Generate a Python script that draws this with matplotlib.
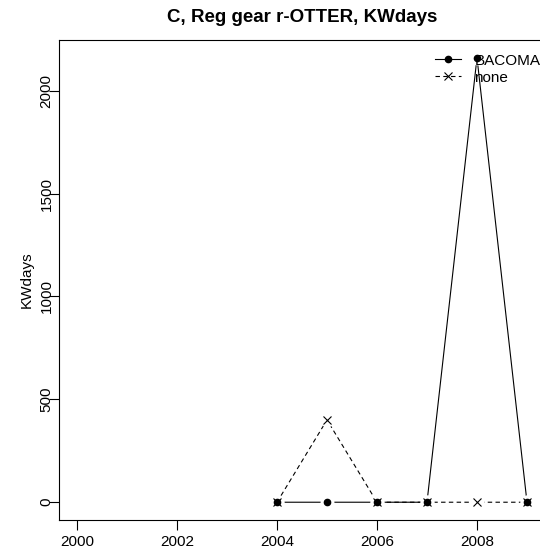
import numpy as np
import matplotlib
matplotlib.use("Agg")
import matplotlib.pyplot as plt

plt.rcParams['font.family'] = ['Liberation Sans', 'DejaVu Sans']

# data
years = [2004, 2005, 2006, 2007, 2008, 2009]
bacoma = [0, 0, 0, 0, 2160, 0]
none = [0, 400, 0, 0, 0, 0]
xticks = [2000, 2002, 2004, 2006, 2008]
yticks = [0, 500, 1000, 1500, 2000]

W, H = 540, 550
fig = plt.figure(figsize=(W/100, H/100), dpi=100)

# plot region in pixels (R style, right edge runs off the image)
left, right, top, bottom = 59, 545, 40, 520
ax = fig.add_axes([left/W, 1 - bottom/H, (right-left)/W, (bottom-top)/H])

# lines first, then white blobs to get R's type="b" gaps, then the symbols
ax.plot(years, bacoma, color='black', lw=0.8, zorder=2)
ax.plot(years, none, color='black', lw=0.8, ls=(0, (4, 3)), zorder=2)
ax.plot(years, bacoma, ls='none', marker='o', ms=10, mfc='white',
        mec='none', zorder=3)
ax.plot(years, none, ls='none', marker='o', ms=10, mfc='white',
        mec='none', zorder=3)
ax.plot(years, bacoma, ls='none', marker='o', ms=4.5, color='black',
        zorder=4)
ax.plot(years, none, ls='none', marker='x', ms=6, mew=0.8, color='black',
        zorder=4)

# legend handles
ax.plot([], [], color='black', lw=0.8, marker='o', ms=4.5, label='BACOMA')
ax.plot([], [], color='black', lw=0.8, ls=(0, (4, 3)), marker='x', ms=6,
        mew=0.8, label='none')

ax.set_xlim(2000 - 0.36, 2009 + 0.36)
ax.set_ylim(-0.04*2160, 2160*1.04)
ax.set_xticks(xticks)
ax.set_yticks(yticks)
ax.set_yticklabels([str(v) for v in yticks], rotation=90, va='center')
ax.tick_params(direction='out', length=7, width=0.8, labelsize=11)
ax.tick_params(axis='x', pad=4)
ax.tick_params(axis='y', pad=-3)
for sp in ax.spines.values():
    sp.set_linewidth(0.8)

ax.set_ylabel('KWdays', fontsize=11, labelpad=4)
ax.set_title('C, Reg gear r-OTTER, KWdays', fontsize=13.5, fontweight='bold',
             pad=13)

ax.legend(loc='upper right', bbox_to_anchor=(1.0, 0.981), frameon=False,
          fontsize=11, handlelength=1.7, handletextpad=0.85,
          labelspacing=0.2, borderpad=0.3, borderaxespad=0.0)

fig.savefig('out.png', dpi=100)
